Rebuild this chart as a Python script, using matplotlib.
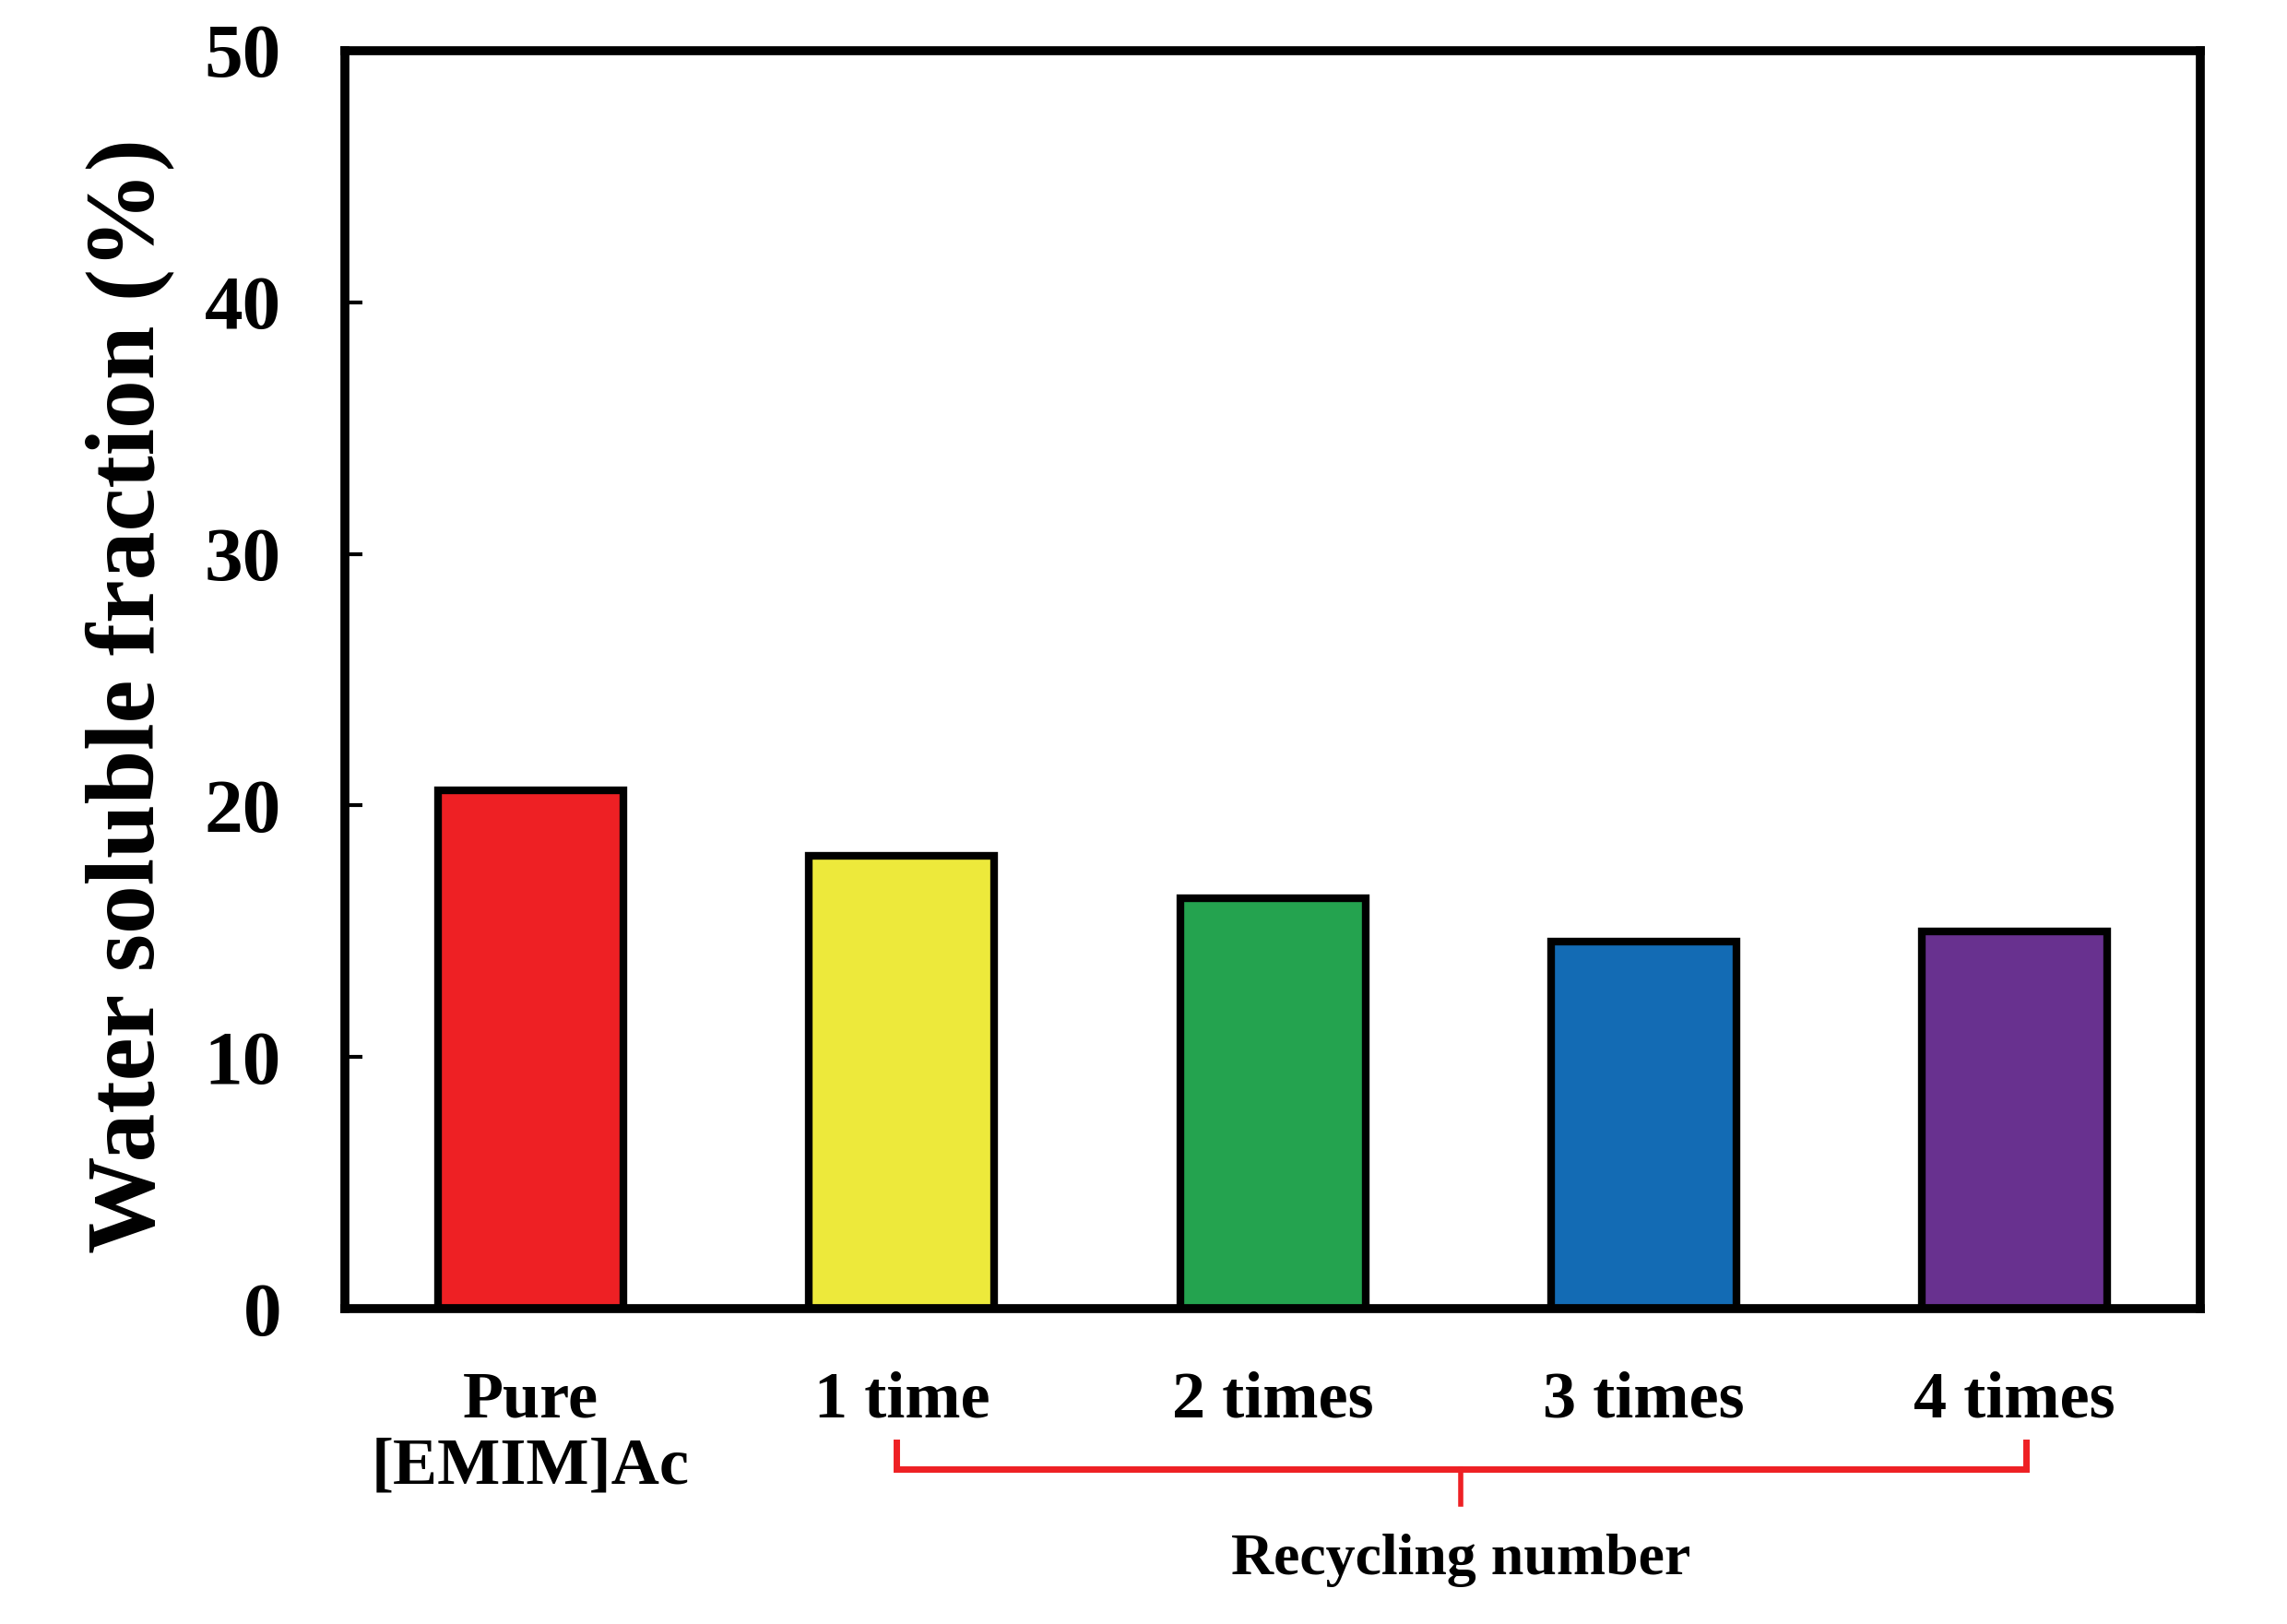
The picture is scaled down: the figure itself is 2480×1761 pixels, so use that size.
import matplotlib
matplotlib.use("Agg")
import matplotlib.pyplot as plt
from matplotlib.transforms import blended_transform_factory

labels = ["Pure\n[EMIM]Ac", "1 time", "2 times", "3 times", "4 times"]
values = [20.6, 18.0, 16.3, 14.6, 15.0]
colors = ["#ee2024", "#ede93b", "#24a34f", "#136bb4", "#68318f"]

plt.rcParams["font.family"] = ["Liberation Serif", "DejaVu Serif"]
plt.rcParams["font.weight"] = "bold"

fig = plt.figure(figsize=(24.8, 17.61), dpi=100)
ax = fig.add_axes([0.151, 0.194, 0.811, 0.775])

x = list(range(len(labels)))
ax.bar(x, values, width=0.5, color=colors, edgecolor="black", linewidth=6)

ax.set_xlim(-0.5, 4.5)
ax.set_ylim(0, 50)
ax.set_yticks([0, 10, 20, 30, 40, 50])
ax.set_xticks(x)
ax.set_xticklabels(labels, fontsize=52, fontweight="bold", linespacing=1.15)
ax.tick_params(axis="x", length=0, pad=48)
ax.tick_params(axis="y", direction="in", length=14, width=3, labelsize=60, pad=50)
for t in ax.get_yticklabels():
    t.set_fontweight("bold")
for s in ax.spines.values():
    s.set_linewidth(7)

ax.set_ylabel("Water soluble fraction (%)", fontsize=76, fontweight="bold")
ax.yaxis.set_label_coords(-0.092, 0.487)

# brace under the recycled samples
tr = blended_transform_factory(ax.transData, ax.transAxes)
x0, x1 = 0.985, 4.03
xm = (x0 + x1) / 2
yb, ye, yt = -0.127, -0.106, -0.155
ax.plot([x0, x0, x1, x1], [ye, yb, yb, ye], color="#ee2024", lw=5,
        transform=tr, clip_on=False, solid_joinstyle="miter")
ax.plot([xm, xm], [yb, yt], color="#ee2024", lw=4, transform=tr, clip_on=False)
ax.text(xm, -0.2, "Recycling number", transform=tr, ha="center", va="center",
        fontsize=46, fontweight="bold")

fig.savefig("out.png", dpi=100)
